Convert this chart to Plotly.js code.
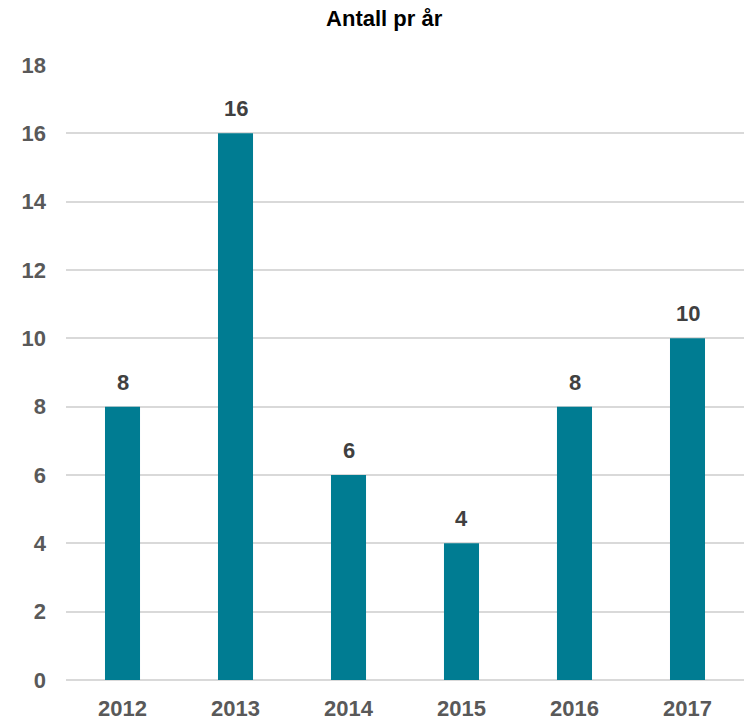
<!DOCTYPE html>
<html>
<head>
<meta charset="utf-8">
<script src="https://cdn.plot.ly/plotly-3.0.1.min.js"></script>
<style>html,body{margin:0;padding:0;background:#fff;}#chart{width:746px;height:720px;}</style>
</head>
<body>
<div id="chart"></div>
<script>
const years = ['2012', '2013', '2014', '2015', '2016', '2017'];
const counts = [8, 16, 6, 4, 8, 10];
const yTicks = [0, 2, 4, 6, 8, 10, 12, 14, 16, 18];

const FONT = 'Liberation Sans, Arial, sans-serif';

const trace = {
  type: 'bar',
  x: years,
  y: counts,
  marker: {color: '#007C92'},
  hoverinfo: 'none'
};

// annotations positioned on the category axis by category index
const labels = years.map((yr, i) => ({
  x: i, y: counts[i], xref: 'x', yref: 'y',
  text: '<b>' + counts[i] + '</b>', showarrow: false,
  yanchor: 'bottom', yshift: 10,
  font: {family: FONT, size: 22, color: '#404040'}
}));

const layout = {
  width: 746, height: 720,
  margin: {l: 66, r: 2, t: 65, b: 40},
  paper_bgcolor: '#fff', plot_bgcolor: '#fff',
  bargap: 0.69,
  showlegend: false,
  annotations: labels,
  title: {
    text: '<b>Antall pr år</b>',
    x: 0.515, xanchor: 'center', y: 0.975, yanchor: 'middle',
    font: {family: FONT, size: 22, color: '#000'}
  },
  xaxis: {
    type: 'category',
    categoryorder: 'array', categoryarray: years,
    range: [-0.5, years.length - 0.5],
    showgrid: false, showline: false, zeroline: false,
    ticks: '', ticklabelstandoff: 13,
    tickfont: {family: FONT, size: 22, color: '#595959', weight: 'bold'}
  },
  yaxis: {
    range: [0, 18], tickvals: yTicks, ticktext: yTicks.map(String),
    showgrid: true, gridcolor: '#d9d9d9', gridwidth: 2,
    zeroline: true, zerolinecolor: '#d9d9d9', zerolinewidth: 2,
    showline: false, ticks: '', ticklabelstandoff: 19,
    tickfont: {family: FONT, size: 22, color: '#595959', weight: 'bold'}
  }
};

Plotly.newPlot('chart', [trace], layout, {displayModeBar: false, staticPlot: true});
</script>
</body>
</html>
